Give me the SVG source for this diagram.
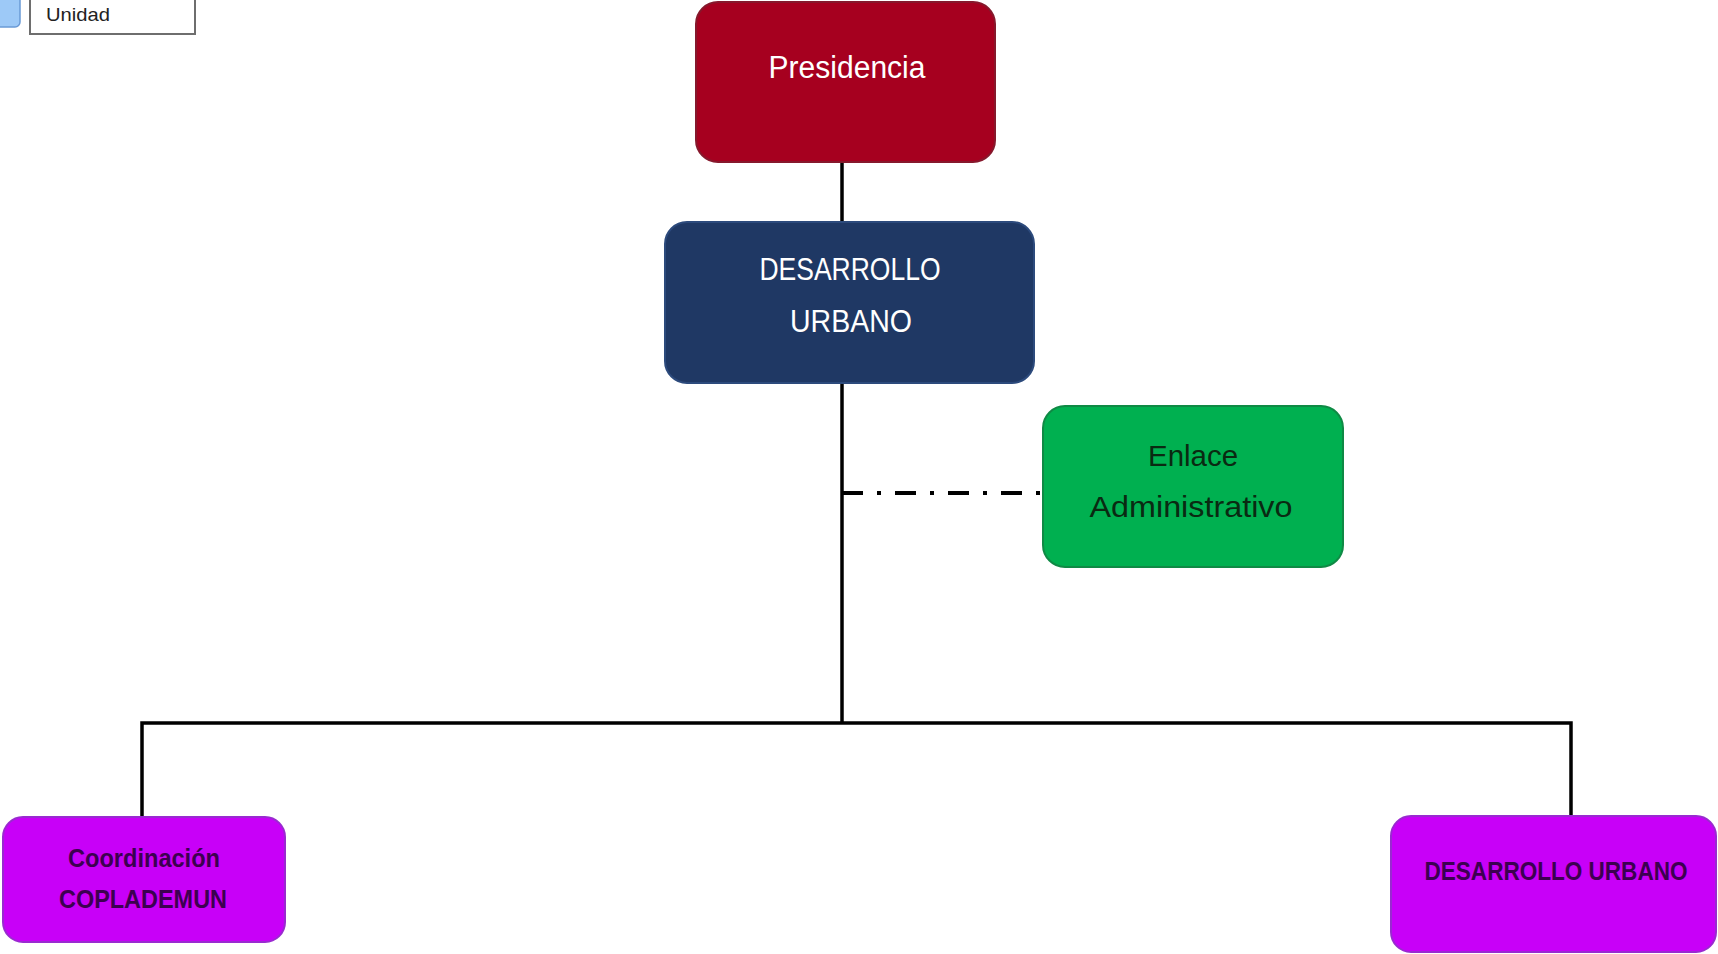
<svg xmlns="http://www.w3.org/2000/svg" width="1718" height="954" viewBox="0 0 1718 954">
<style>
  .lbl { font-family: "Liberation Sans", Arial, sans-serif; text-anchor: middle; }
  .conn { stroke: #000; stroke-width: 3.5; fill: none; }
  .dashdot { stroke: #000; stroke-width: 4; fill: none; stroke-dasharray: 21 14 4 14; }
  .purple { fill: #c800f8; stroke: #9a2ad0; stroke-width: 2; }
  .ptxt { fill: #3c0050; font-weight: bold; }
</style>
<rect x="0" y="0" width="1718" height="954" fill="#ffffff"/>

<g id="legend">
  <rect x="-10" y="-10" width="30" height="37" rx="5" fill="#9dc9f7" stroke="#6a9ad6" stroke-width="1.5"/>
  <rect x="30" y="-5" width="165" height="39" fill="#ffffff" stroke="#6e6e6e" stroke-width="2"/>
  <text class="lbl" x="46" y="21" font-size="19" fill="#222" style="text-anchor:start" textLength="64" lengthAdjust="spacingAndGlyphs">Unidad</text>
</g>

<g id="connectors">
  <line class="conn" x1="842" y1="162" x2="842" y2="222"/>
  <line class="conn" x1="842" y1="383" x2="842" y2="723"/>
  <polyline class="conn" points="142,817 142,723 1571,723 1571,815"/>
  <line class="dashdot" x1="842" y1="493" x2="1043" y2="493"/>
</g>

<g id="presidencia">
  <rect x="696" y="2" width="299" height="160" rx="22" fill="#a6001f" stroke="#86182c" stroke-width="2"/>
  <text class="lbl" x="847" y="78" font-size="31" fill="#ffffff" textLength="157" lengthAdjust="spacingAndGlyphs">Presidencia</text>
</g>

<g id="desarrollo-urbano">
  <rect x="665" y="222" width="369" height="161" rx="22" fill="#1f3864" stroke="#2c4a7c" stroke-width="2"/>
  <text class="lbl" x="850" y="280" font-size="31" fill="#ffffff" textLength="181" lengthAdjust="spacingAndGlyphs">DESARROLLO</text>
  <text class="lbl" x="851" y="332" font-size="31" fill="#ffffff" textLength="122" lengthAdjust="spacingAndGlyphs">URBANO</text>
</g>

<g id="enlace">
  <rect x="1043" y="406" width="300" height="161" rx="22" fill="#00b050" stroke="#0f8a45" stroke-width="2"/>
  <text class="lbl" x="1193" y="466" font-size="30" fill="#0a2a12" textLength="90" lengthAdjust="spacingAndGlyphs">Enlace</text>
  <text class="lbl" x="1191" y="517" font-size="30" fill="#0a2a12" textLength="203" lengthAdjust="spacingAndGlyphs">Administrativo</text>
</g>

<g id="coordinacion">
  <rect class="purple" x="3" y="817" width="282" height="125" rx="20"/>
  <text class="lbl ptxt" x="144" y="867" font-size="26" textLength="152" lengthAdjust="spacingAndGlyphs">Coordinación</text>
  <text class="lbl ptxt" x="143" y="908" font-size="26" textLength="168" lengthAdjust="spacingAndGlyphs">COPLADEMUN</text>
</g>

<g id="desarrollo-urbano-2">
  <rect class="purple" x="1391" y="816" width="325" height="136" rx="20"/>
  <text class="lbl ptxt" x="1556" y="880" font-size="26" textLength="263" lengthAdjust="spacingAndGlyphs">DESARROLLO URBANO</text>
</g>
</svg>
